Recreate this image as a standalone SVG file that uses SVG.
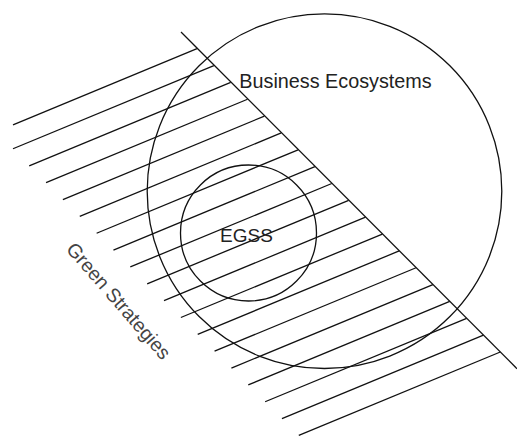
<svg xmlns="http://www.w3.org/2000/svg" width="517" height="437" viewBox="0 0 517 437">
  <style>
    .ln { fill: none; stroke: #111; stroke-width: 1.3; }
    .lbl { font-family: "Liberation Sans", Arial, sans-serif; font-size: 19px; fill: #222; }
  </style>
  <rect width="517" height="437" fill="#fff"/>

  <!-- Green Strategies: hatched half-plane bounded by a 45 degree edge -->
  <g id="green-strategies">
    <line class="ln" x1="181" y1="32" x2="517" y2="368.7"/>
    <g class="ln">
      <line x1="13" y1="124.9" x2="197" y2="48.7"/>
      <line x1="13" y1="148.75" x2="213.85" y2="65.55"/>
      <line x1="29.2" y1="165.86" x2="230.7" y2="82.4"/>
      <line x1="46.05" y1="182.71" x2="247.55" y2="99.25"/>
      <line x1="62.9" y1="199.56" x2="264.4" y2="116.1"/>
      <line x1="79.75" y1="216.41" x2="281.25" y2="132.95"/>
      <line x1="96.6" y1="233.26" x2="298.1" y2="149.8"/>
      <line x1="113.45" y1="250.11" x2="314.95" y2="166.65"/>
      <line x1="130.3" y1="266.96" x2="331.8" y2="183.5"/>
      <line x1="147.15" y1="283.81" x2="348.65" y2="200.35"/>
      <line x1="164" y1="300.66" x2="365.5" y2="217.2"/>
      <line x1="180.85" y1="317.51" x2="382.35" y2="234.05"/>
      <line x1="197.7" y1="334.36" x2="399.2" y2="250.9"/>
      <line x1="214.55" y1="351.21" x2="416.05" y2="267.75"/>
      <line x1="231.4" y1="368.06" x2="432.9" y2="284.6"/>
      <line x1="248.25" y1="384.91" x2="449.75" y2="301.45"/>
      <line x1="265.1" y1="401.76" x2="466.6" y2="318.3"/>
      <line x1="281.95" y1="418.61" x2="483.45" y2="335.15"/>
      <line x1="298.8" y1="435.46" x2="500.3" y2="352"/>
    </g>
    <text class="lbl" text-anchor="middle" transform="translate(118.5,301) rotate(49)" y="6.5" style="fill:#444;font-size:19.5px">Green Strategies</text>
  </g>

  <!-- Business Ecosystems -->
  <g id="business-ecosystems">
    <circle class="ln" cx="324.5" cy="191.2" r="177.3"/>
    <text class="lbl" x="335.5" y="88.3" text-anchor="middle" style="font-size:19.8px">Business Ecosystems</text>
  </g>

  <!-- EGSS -->
  <g id="egss">
    <circle class="ln" cx="248.5" cy="233" r="68"/>
    <text class="lbl" x="246.5" y="241.5" text-anchor="middle">EGSS</text>
  </g>
</svg>
